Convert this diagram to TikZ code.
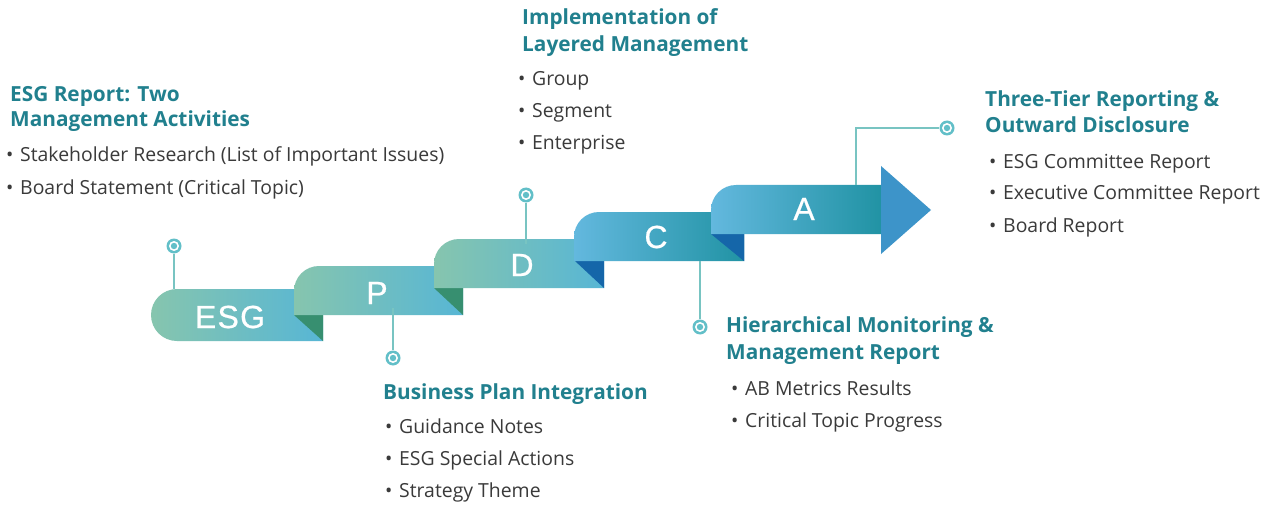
\documentclass[tikz,border=0pt]{standalone}
\usepackage{fontspec}
\setmainfont{Open Sans}
\newfontfamily\letterfont[LetterSpace=4,FakeBold=0.6]{Liberation Sans}
\usepackage{xcolor}
\usetikzlibrary{positioning}

\definecolor{mint}{HTML}{86C5AE}
\definecolor{skyr}{HTML}{57B6D5}
\definecolor{skyl}{HTML}{63B8DE}
\definecolor{tealr}{HTML}{2193A4}
\definecolor{foldg}{HTML}{378F70}
\definecolor{foldb}{HTML}{1566A9}
\definecolor{headc}{HTML}{21808E}
\definecolor{bodyc}{HTML}{3A3A3A}
\definecolor{pinc}{HTML}{78C4C2}
\definecolor{dotc}{HTML}{62BFC8}
\definecolor{arrowc}{HTML}{3D94C9}

\tikzset{
  heading/.style={anchor=base west, inner sep=0pt, text=headc,
    font=\fontsize{20.8}{24}\selectfont\bfseries},
  item/.style={anchor=base west, inner sep=0pt, text=bodyc,
    font=\fontsize{19.4}{24}\selectfont},
  letter/.style={inner sep=0pt, text=white, font=\letterfont\fontsize{32}{32}\selectfont},
  pindot/.style={circle, fill=dotc, minimum size=15pt, inner sep=0pt,
    path picture={\fill[white] (path picture bounding box.center) circle (5pt);
      \fill[dotc] (path picture bounding box.center) circle (3.2pt);}},
  pinline/.style={pinc, line width=2.6pt},
}
\newcommand{\bul}{\makebox[14pt][l]{•}}

\begin{document}
\begin{tikzpicture}[x=1pt,y=-1pt]
  \fill[white] (0,0) rectangle (1276,505);
  \useasboundingbox (0,0) rectangle (1276,505);

  % ESG band (round left end)
  \shade[left color=mint, right color=skyr]
    (177,341) .. controls (162.6,341) and (151,329.4) .. (151,315)
    .. controls (151,300.6) and (162.6,289) .. (177,289) -- (323,289) -- (323,341) -- cycle;
  \fill[foldg] (294,315) -- (323,315) -- (323,341) -- cycle;

  % stair bands
  \foreach \xa/\ya/\xb/\yb/\ca/\cb/\fc in {294/266/463/315/mint/skyr/foldg,
      434/239/604/288/mint/skyr/foldb, 574/212/744/261/skyl/tealr/foldb}
  {
    \shade[left color=\ca, right color=\cb] (\xa,\yb) -- (\xa,{\ya+25})
      .. controls (\xa,{\ya+11.2}) and ({\xa+11.2},\ya) .. ({\xa+25},\ya)
      -- (\xb,\ya) -- (\xb,\yb) -- cycle;
    \fill[\fc] ({\xb-29},{\yb-27}) -- (\xb,{\yb-27}) -- (\xb,\yb) -- cycle;
  }
  \fill[foldb] (711,234) -- (744,234) -- (744,261) -- cycle;

  % A band with arrow head
  \shade[left color=skyl, right color=tealr] (711,234) -- (711,210)
    .. controls (711,196.2) and (722.2,185) .. (736,185) -- (881,185) -- (881,234) -- cycle;
  \fill[arrowc] (881,166) -- (931,210) -- (881,254) -- cycle;

  % letters
  \node[letter] (lE) at (230,317) {ESG};
  \node[letter] (lP) at (377,293) {P};
  \node[letter] (lD) at (522,265) {D};
  \node[letter] (lC) at (656,237) {C};
  \node[letter] (lA) at (804,209) {A};

  % pins
  \node[pindot] (pinE) at (174,246) {};
  \node[pindot] (pinP) at (393,358) {};
  \node[pindot] (pinD) at (526,195) {};
  \node[pindot] (pinC) at (700,327) {};
  \node[pindot] (pinA) at (947,128) {};
  \coordinate (tE) at (174,289);
  \coordinate (tP) at (393,308);
  \coordinate (tD) at (526,244);
  \coordinate (tC) at (700,261);
  \coordinate (tA) at (856,185);
  \draw[pinline] (tE) -- (pinE);
  \draw[pinline] (tP) -- (pinP);
  \draw[pinline] (tD) -- (pinD);
  \draw[pinline] (tC) -- (pinC);
  \draw[pinline] (tA) |- (pinA);

  % texts
  \node[heading] (hE1) at (10,102) {ESG Report: Two};
  \node[heading] (hE2) at (10,127) {Management Activities};
  \node[item] (iE1) at (6,162) {\bul Stakeholder Research (List of Important Issues)};
  \node[item] (iE2) at (6,194) {\bul Board Statement (Critical Topic)};

  \node[heading] (hD1) at (522,25) {Implementation of};
  \node[heading] (hD2) at (522,52) {Layered Management};
  \foreach \t [count=\i] in {Group, Segment, Enterprise}
    \node[item] (iD\i) at (518,{86+32*(\i-1)}) {\bul \t};

  \node[heading] (hA1) at (985,107) {Three-Tier Reporting \&};
  \node[heading] (hA2) at (985,133) {Outward Disclosure};
  \foreach \t [count=\i] in {ESG Committee Report, Executive Committee Report, Board Report}
    \node[item] (iA\i) at (989,{168+32*(\i-1)}) {\bul \t};

  \node[heading] (hC1) at (726,332) {Hierarchical Monitoring \&};
  \node[heading] (hC2) at (726,359) {Management Report};
  \foreach \t [count=\i] in {AB Metrics Results, Critical Topic Progress}
    \node[item] (iC\i) at (731,{395+32*(\i-1)}) {\bul \t};

  \node[heading] (hP1) at (383,399) {Business Plan Integration};
  \foreach \t [count=\i] in {Guidance Notes, ESG Special Actions, Strategy Theme}
    \node[item] (iP\i) at (385,{433+32*(\i-1)}) {\bul \t};
\end{tikzpicture}
\end{document}
